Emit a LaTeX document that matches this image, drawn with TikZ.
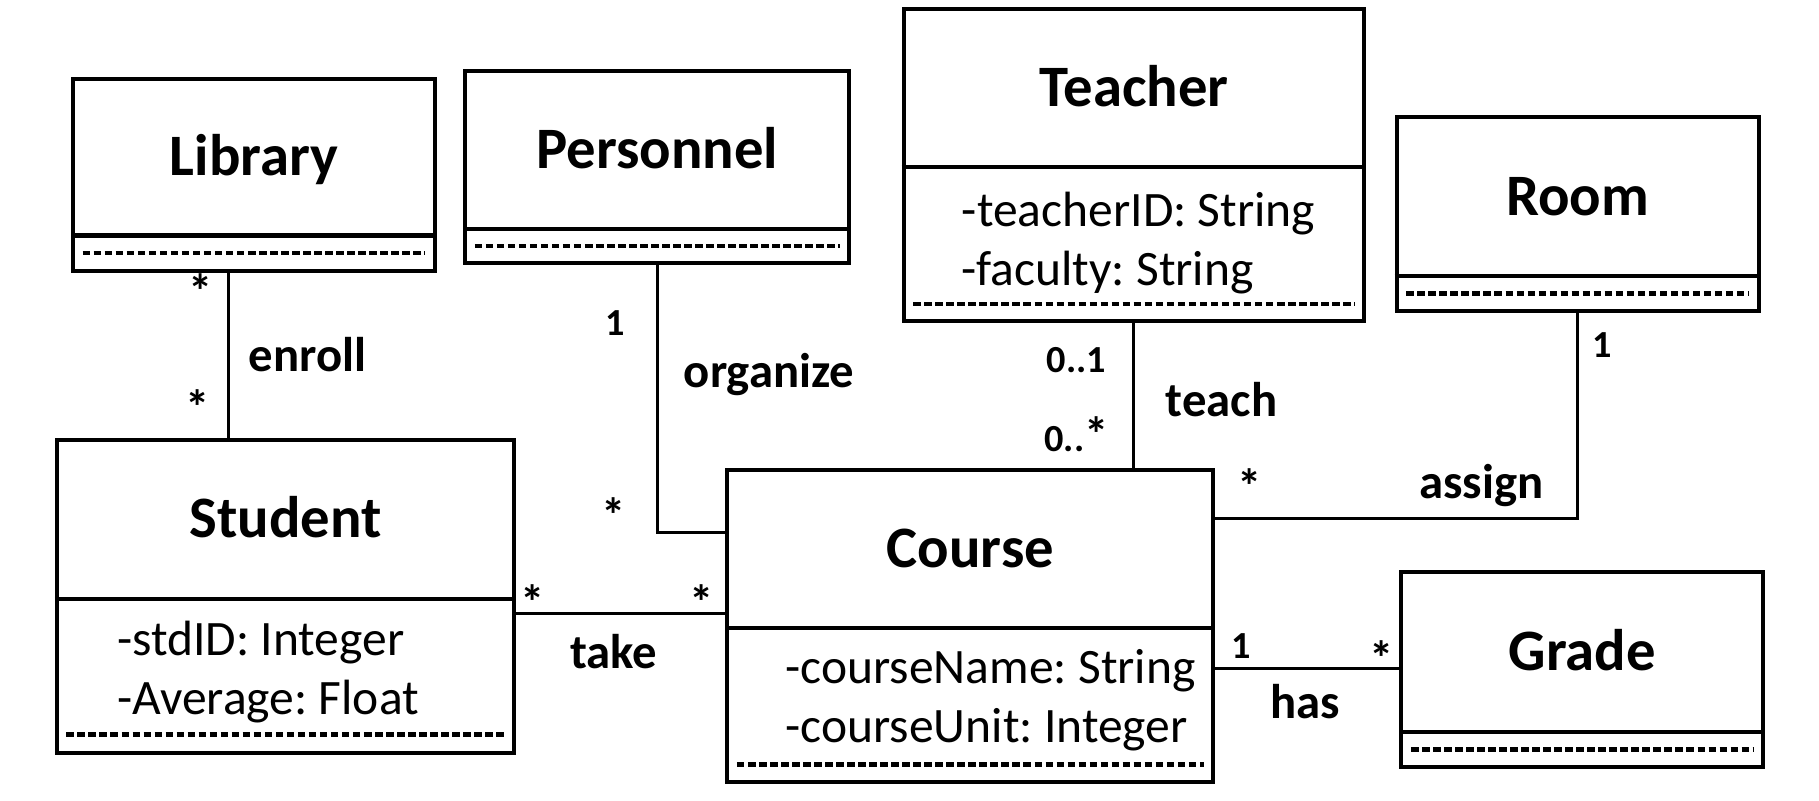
\documentclass[tikz,border=0pt]{standalone}
\usepackage{fontspec}
\setmainfont{Carlito}
\frenchspacing
% one UML class: id, left, top, right, bottom, divider y, empty-row y, class name
\newcommand\umlclass[8]{%
  \node[classbox, minimum width={#4-#2}, minimum height={#5-#3}] (#1) at ({(#2+#4)/2},{(#3+#5)/2}) {};
  \draw[boxline] (#1.west |- 0,#6) -- (#1.east |- 0,#6);
  \draw[emptyrow] ([xshift=10pt]#1.west |- 0,#7) -- ([xshift=-10pt]#1.east |- 0,#7);
  \node[title] (#1-name) at ({(#2+#4)/2},{(#3+#6)/2+16}) {#8};
}
\newcommand\many{{\fontsize{42}{40}\selectfont *}}
\begin{document}
\begin{tikzpicture}[x=1pt,y=-1pt,
  classbox/.style={draw, line width=3.5pt, rectangle, inner sep=0pt},
  boxline/.style={line width=3.5pt},
  emptyrow/.style={line width=3.8pt, dash pattern=on 6.5pt off 3pt},
  title/.style={font=\fontsize{50.6}{60}\selectfont\bfseries, anchor=base, inner sep=0pt},
  attr/.style={font=\fontsize{42.7}{51}\selectfont, anchor=base west, inner sep=0pt},
  assoc/.style={line width=2.6pt},
  role/.style={font=\fontsize{42}{50}\selectfont\bfseries, anchor=base, inner sep=0pt},
  mult/.style={font=\fontsize{33}{40}\selectfont\bfseries, anchor=base, inner sep=0pt}]

\useasboundingbox (0,0) rectangle (1568,690);

% classes
\umlclass{lib}{63}{68}{375}{234}{203}{218}{Library}
\umlclass{per}{401}{61}{732}{227}{197}{212}{Personnel}
\umlclass{tch}{779}{8}{1176}{277}{144}{262}{Teacher}
\umlclass{room}{1204}{101}{1516}{268}{238}{253}{Room}
\umlclass{stu}{49}{379}{443}{649}{516}{633}{Student}
\umlclass{crs}{627}{405}{1046}{674}{541}{659}{Course}
\umlclass{grd}{1208}{493}{1520}{661}{631}{646}{Grade}

% attributes
\node[attr] (tch-a1) at (829,195) {-teacherID: String};
\node[attr] (tch-a2) at (829,246) {-faculty: String};
\node[attr] (stu-a1) at (101,565) {-stdID: Integer};
\node[attr] (stu-a2) at (101,616) {-Average: Float};
\node[attr] (crs-a1) at (677,589) {-courseName: String};
\node[attr] (crs-a2) at (677,640) {-courseUnit: Integer};

% associations
\draw[assoc] ([xshift=-22pt]lib.south) -- ([xshift=-22pt]lib.south |- stu.north);
\draw[assoc] (per.south) |- ([yshift=80.5pt]crs.west);
\draw[assoc] (tch.south) -- (tch.south |- crs.north);
\draw[assoc] (room.south) |- ([yshift=92.5pt]crs.east);
\draw[assoc] ([yshift=-15pt]stu.east) -- ([yshift=-15pt]stu.east -| crs.west);
\draw[assoc] ([yshift=-36.5pt]crs.east) -- ([yshift=-36.5pt]crs.east -| grd.west);

% association names
\node[role] (r-enroll) at (265,320) {enroll};
\node[role] (r-organize) at (663,334) {organize};
\node[role] (r-teach) at (1053,359) {teach};
\node[role] (r-assign) at (1277,430) {assign};
\node[role] (r-take) at (529,576) {take};
\node[role] (r-has) at (1125,619) {has};

% multiplicities
\node[mult] (m-lib) at (173,266) {\many};
\node[mult] (m-stu1) at (170,366) {\many};
\node[mult] (m-per) at (530,289) {1};
\node[mult] (m-crs1) at (529,459) {\many};
\node[mult] (m-tch) at (928,321) {0..1};
\node[mult] (m-crs2) at (928,389) {0..\many};
\node[mult] (m-room) at (1381,308) {1};
\node[mult] (m-crs3) at (1077,434) {\many};
\node[mult] (m-stu2) at (459,534) {\many};
\node[mult] (m-crs4) at (605,534) {\many};
\node[mult] (m-crs5) at (1070,568) {1};
\node[mult] (m-grd) at (1191,582) {\many};
\end{tikzpicture}
\end{document}
